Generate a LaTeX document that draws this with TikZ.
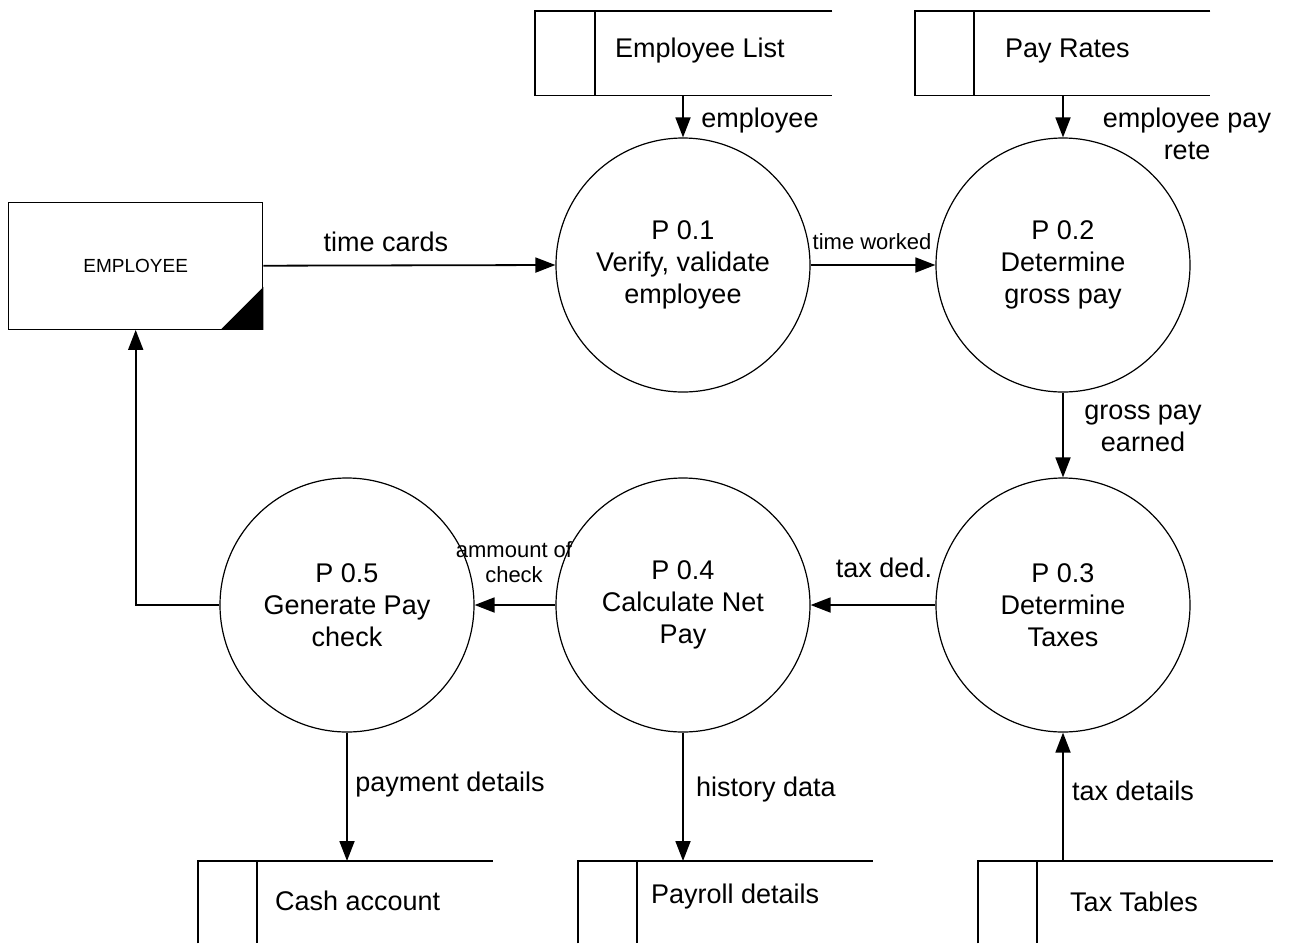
\documentclass[tikz,border=0pt]{standalone}
\usepackage{fontspec}
\setmainfont{Liberation Sans}
\usetikzlibrary{arrows.meta,positioning}
\begin{document}
\begin{tikzpicture}[x=1pt,y=-1pt,
  proc/.style={draw, line width=1.2pt, circle, minimum size=254pt, inner sep=0pt, align=center, font=\fontsize{27}{32}\selectfont},
  flow/.style={line width=1.8pt, -{Triangle[length=20pt,width=15pt]}},
  lbl/.style={font=\fontsize{27}{32}\selectfont, align=center, inner sep=0pt},
  slbl/.style={font=\fontsize{22}{25}\selectfont, align=center, inner sep=0pt},
  storearea/.style={inner sep=0pt, anchor=north west},
  storeline/.style={line width=1.4pt},
  ent/.style={draw, line width=1.4pt, minimum width=254pt, minimum height=127pt, inner sep=0pt, anchor=north west, font=\fontsize{19}{22}\selectfont}
]
\useasboundingbox (0,0) rectangle (1290,943);

% external entity
\node[ent] (emp) at (8,201.5) {EMPLOYEE};
\fill (emp.south east) -- ++(-43,0) -- ++(43,-43) -- cycle;

% processes
\node[proc] (p1) at (683,265) {P 0.1\\Verify, validate\\employee};
\node[proc] (p2) at (1063,265) {P 0.2\\Determine\\gross pay};
\node[proc] (p3) at (1063,605) {P 0.3\\Determine\\Taxes};
\node[proc] (p4) at (683,605) {P 0.4\\Calculate Net\\Pay};
\node[proc] (p5) at (347,605) {P 0.5\\Generate Pay\\check};

% top data stores
\node[storearea, minimum width=297pt, minimum height=84pt] (el) at (535,11) {};
\draw[storeline] (el.north east) -- (el.north west) -- (el.south west) -- (el.south east);
\draw[storeline] ([xshift=60pt]el.north west) -- ([xshift=60pt]el.south west);
\node[lbl, anchor=west] (elt) at (615,51) {Employee List};

\node[storearea, minimum width=295pt, minimum height=84pt] (pr) at (915,11) {};
\draw[storeline] (pr.north east) -- (pr.north west) -- (pr.south west) -- (pr.south east);
\draw[storeline] ([xshift=59pt]pr.north west) -- ([xshift=59pt]pr.south west);
\node[lbl, anchor=west] (prt) at (1005,51) {Pay Rates};

% bottom data stores
\node[storearea, minimum width=295pt, minimum height=82pt] (ca) at (198,861) {};
\draw[storeline] (ca.south west) -- (ca.north west) -- (ca.north east);
\draw[storeline] ([xshift=59pt]ca.north west) -- ([xshift=59pt]ca.south west);
\node[lbl, anchor=west] (cat) at (275,901) {Cash account};

\node[storearea, minimum width=295pt, minimum height=82pt] (pd) at (578,861) {};
\draw[storeline] (pd.south west) -- (pd.north west) -- (pd.north east);
\draw[storeline] ([xshift=59pt]pd.north west) -- ([xshift=59pt]pd.south west);
\node[lbl, anchor=west] (pdt) at (651,897) {Payroll details};

\node[storearea, minimum width=295pt, minimum height=82pt] (tt) at (978,861) {};
\draw[storeline] (tt.south west) -- (tt.north west) -- (tt.north east);
\draw[storeline] ([xshift=59pt]tt.north west) -- ([xshift=59pt]tt.south west);
\node[lbl, anchor=west] (ttt) at (1070,902) {Tax Tables};

% flows
\draw[flow] (el.south -| p1.north) -- (p1.north);
\node[lbl] (l1) at (760,121) {employee};

\draw[flow] (pr.south -| p2.north) -- (p2.north);
\node[lbl] (l2) at (1187,134) {employee pay\\rete};

\draw[flow] (emp.east) -- (p1.west);
\node[lbl] (l3) at (386,242) {time cards};

\draw[flow] (p1.east) -- (p2.west);
\node[slbl] (l4) at (872,242) {time worked};

\draw[flow] (p2.south) -- (p3.north);
\node[lbl] (l5) at (1143,428) {gross pay\\earned};

\draw[flow] (p3.west) -- (p4.east);
\node[lbl] (l6) at (884,568) {tax ded.};

\draw[flow] (p4.west) -- (p5.east);
\node[slbl] (l7) at (514,562) {ammount of\\check};

\draw[flow] (p5.west) -| (emp.south);

\draw[flow] (p5.south) -- (ca.north -| p5.south);
\node[lbl] (l8) at (450,785) {payment details};

\draw[flow] (p4.south) -- (pd.north -| p4.south);
\node[lbl] (l9) at (766,790) {history data};

\draw[flow] (tt.north -| p3.south) -- (p3.south);
\node[lbl] (l10) at (1133,791) {tax details};
\end{tikzpicture}
\end{document}
